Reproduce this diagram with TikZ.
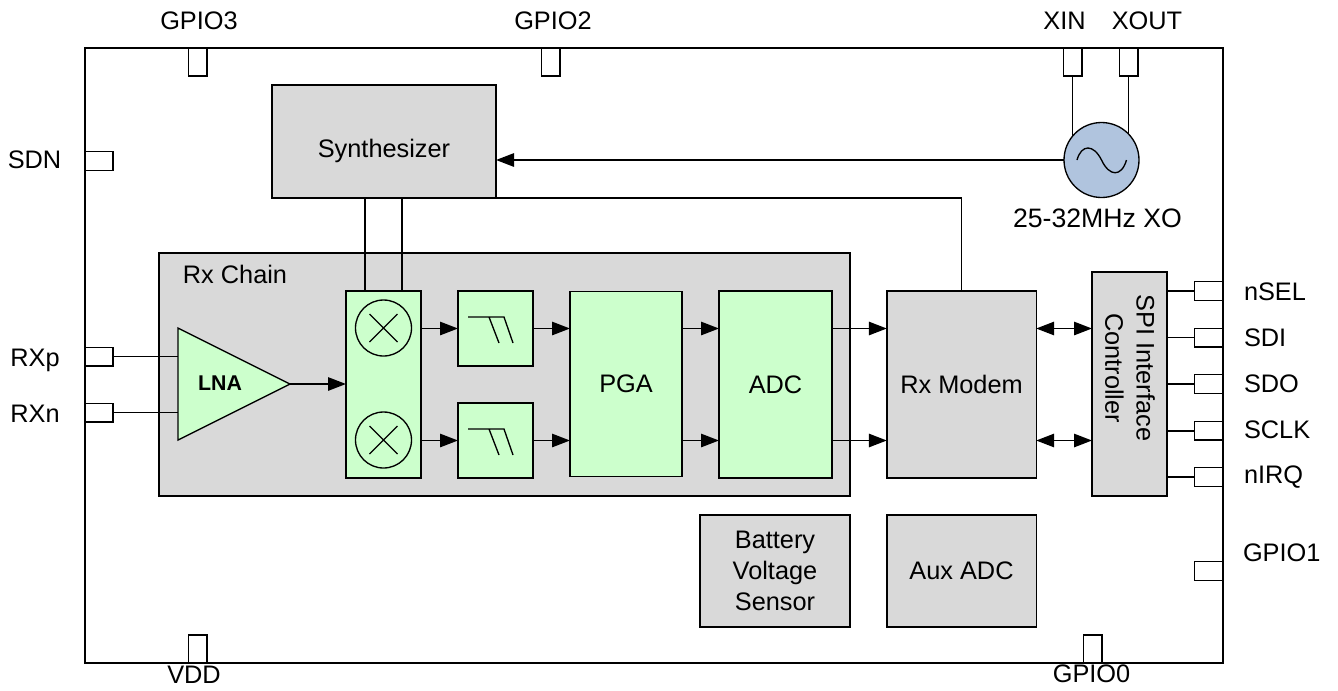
\documentclass[tikz,border=0pt]{standalone}
\usepackage{fontspec}
\setmainfont{Liberation Sans}
\usetikzlibrary{arrows.meta,shapes.geometric}
\definecolor{xoblue}{HTML}{B0C4DE}

\begin{document}
\begin{tikzpicture}[x=0.75pt,y=-0.75pt,>={Triangle[length=13.5pt,width=10pt]},line width=1.4pt,
	every node/.style={font=\fontsize{19}{23.5}\selectfont,inner sep=0pt,outer sep=0pt,align=center},
	grey/.style={draw,fill=black!15,line width=1pt},
	green/.style={draw,fill=green!20!white,line width=1pt},
	pinh/.style={draw,fill=white,minimum width=21pt,minimum height=14pt,line width=1pt},
	pinv/.style={draw,fill=white,minimum width=14pt,minimum height=21pt,line width=1pt}]
	\useasboundingbox (0,0) rectangle (1338,690);
	\node[draw,line width=1.2pt,minimum width=853.5pt,minimum height=461.25pt] (chip) at (654,355.5) {};
	
	% pins
	\node[pinv] (gpio3) at (197.5,62) {};
	\node[pinv] (gpio2) at (550.5,62) {};
	\node[pinv] (xin) at (1072.5,62) {};
	\node[pinv,node distance=42pt] (xout) [right of=xin] {};
	\node[pinh] (sdn) at (99,161) {};
	\node[pinh] (rxp) at (99,356.5) {};
	\node[pinh,node distance=42pt] (rxn) [below of=rxp] {};
	\node[pinh] (nsel) at (1208.5,291) {};
	\node[pinh,node distance=34.9pt] (sdi) [below of=nsel] {};
	\node[pinh,node distance=34.9pt] (sdo) [below of=sdi] {};
	\node[pinh,node distance=34.9pt] (sclk) [below of=sdo] {};
	\node[pinh,node distance=34.9pt] (nirq) [below of=sclk] {};
	\node[pinh] (gpio1) at (1208.5,571) {};
	\node[pinv] (vdd) at (197.5,649) {};
	\node[pinv] (gpio0) at (1092.5,649) {};
	
	% pin names
	\node (gpio3name) at (199,21) {GPIO3};
	\node (gpio2name) at (553,21) {GPIO2};
	\node (xinname) at (1064.5,21) {XIN};
	\node (xoutname) at (1147,21) {XOUT};
	\node (sdnname) at (34.5,160) {SDN};
	\node (rxpname) at (35,360) {RXp};
	\node (rxnname) at (35,414) {RXn};
	\node[anchor=west] (nselname) at (1244,292) {nSEL};
	\node[anchor=west] (sdiname) at (1244,338) {SDI};
	\node[anchor=west] (sdoname) at (1244,384) {SDO};
	\node[anchor=west] (sclkname) at (1244,430) {SCLK};
	\node[anchor=west] (nirqname) at (1244,477) {nIRQ};
	\node[anchor=west] (gpio1name) at (1243,553) {GPIO1};
	\node (vddname) at (194,675) {VDD};
	\node (gpio0name) at (1091.5,674) {GPIO0};
	
	% blocks
	\node[grey,minimum width=168pt,minimum height=84.75pt] (synth) at (384,141.5) {};
	\node (synthname) at (384,151) {Synthesizer};
	\node[grey,minimum width=518.25pt,minimum height=182.25pt] (rxchain) at (504.5,374.5) {};
	\node (rxchainname) at (235,274) {Rx Chain};
	\node[green,isosceles triangle,isosceles triangle stretches,minimum width=84pt,minimum height=84pt,anchor=lower side] (lna) at (178,384) {};
	\node (lnaname) at (220,383) {\fontsize{16}{18}\selectfont\bfseries LNA};
	\node[green,minimum width=56.25pt,minimum height=140.25pt] (mixer) at (383.5,384.5) {};
	\node[draw,circle,minimum size=42pt,line width=1pt] (mixa) at (383.5,328) {};
	\node[draw,circle,minimum size=42pt,line width=1pt,node distance=84pt] (mixb) [below of=mixa] {};
	\node[green,minimum width=56.25pt,minimum height=56.25pt] (filta) at (495.5,328.5) {};
	\node[green,minimum width=56.25pt,minimum height=56.25pt,node distance=84pt] (filtb) [below of=filta] {};
	\node[green,minimum width=84pt,minimum height=139pt] (pga) at (626,384) {PGA};
	\node[green,minimum width=84.75pt,minimum height=140.25pt] (adc) at (775.5,384.5) {ADC};
	\node[grey,minimum width=112pt,minimum height=140.25pt] (modem) at (961.5,384.5) {Rx Modem};
	\node[grey,minimum width=56.25pt,minimum height=168pt] (spi) at (1129.5,384) {};
	\node[rotate=-90] (spiname) at (1130,368) {SPI Interface\\Controller};
	\node[grey,minimum width=112.5pt,minimum height=84pt] (battery) at (775,571) {Battery\\Voltage\\Sensor};
	\node[grey,minimum width=112pt,minimum height=84pt] (auxadc) at (961.5,571) {Aux ADC};
	\node[draw,circle,fill=xoblue,line width=1pt,minimum size=56.25pt] (xo) at (1101.5,160) {};
	\node (xoname) at (1097.5,218) {\fontsize{20}{23.5}\selectfont 25-32MHz XO};
	
	% symbols
	\foreach \m in {mixa,mixb}
	\draw[shift={(\m)},line width=1pt] (-14,-14) -- (14,14) (-14,14) -- (14,-14);
	\foreach \f in {filta,filtb}
	\draw[shift={(\f)},line width=1pt] (-27.5,-11.5) -- (8.5,-11.5) -- (17.5,14.5) (-6.5,-11.5) -- (3.5,14.5);
	\draw[shift={(xo)},line width=1pt] (-24.5,0) .. controls (-20,-16) and (-8,-16) .. (0,0) .. controls (8,17) and (20,17) .. (25,0);
	
	% connectors
	\path
	(rxp.east) edge (rxp.east -| lna.left corner)
	(rxn.east) edge (rxn.east -| lna.left corner)
	(xin.south) edge (xin.south |- xo.140.7)
	(xout.south) edge (xout.south |- xo.43.9)
	([xshift=-14pt]mixer.north) edge ([xshift=-14pt]mixer.north |- synth.south)
	([xshift=14pt]mixer.north) edge ([xshift=14pt]mixer.north |- synth.south)
	(nsel.west) edge (nsel.west -| spi.east)
	(sdi.west) edge (sdi.west -| spi.east)
	(sdo.west) edge (sdo.west -| spi.east)
	(sclk.west) edge (sclk.west -| spi.east)
	(nirq.west) edge (nirq.west -| spi.east);
	\draw (synth.south east) -| (modem.north);
	
	\path[->]
	(xo.west) edge (xo.west -| synth.east)
	(lna.apex) edge (lna.apex -| mixer.west)
	(filta.west -| mixer.east) edge (filta.west)
	(filtb.west -| mixer.east) edge (filtb.west)
	(filta.east) edge (filta.east -| pga.west)
	(filtb.east) edge (filtb.east -| pga.west)
	(filta.east -| pga.east) edge (filta.east -| adc.west)
	(filtb.east -| pga.east) edge (filtb.east -| adc.west)
	(filta.east -| adc.east) edge (filta.east -| modem.west)
	(filtb.east -| adc.east) edge (filtb.east -| modem.west);
	\path[<->]
	(filta.east -| modem.east) edge (filta.east -| spi.west)
	(filtb.east -| modem.east) edge (filtb.east -| spi.west);
\end{tikzpicture}
\end{document}
